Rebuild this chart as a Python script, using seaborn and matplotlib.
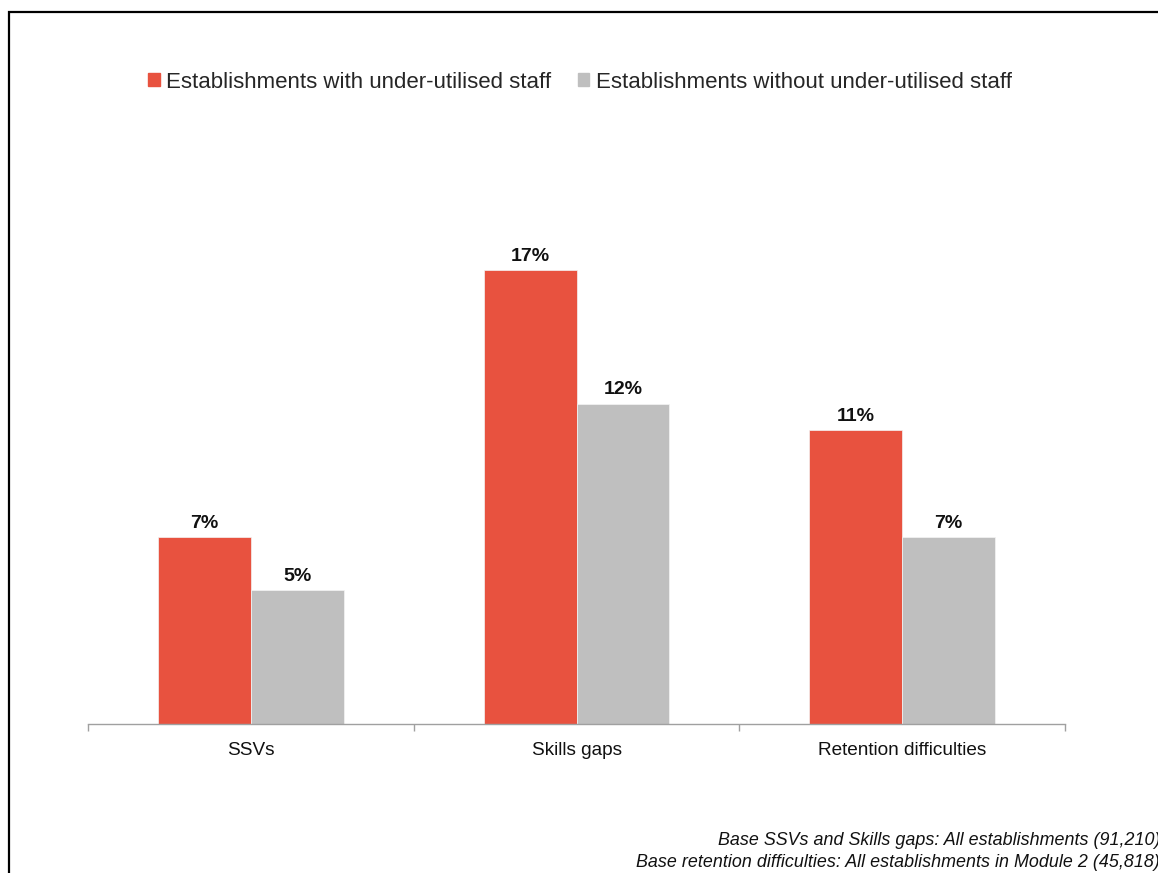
import seaborn as sns
import matplotlib.pyplot as plt
import matplotlib.patches as mpatches
import pandas as pd

# data
categories = ['SSVs', 'Skills gaps', 'Retention difficulties']
with_staff = [7, 17, 11]
without_staff = [5, 12, 7]
series_names = ['Establishments with under-utilised staff',
                'Establishments without under-utilised staff']
colors = ['#E8523F', '#BFBFBF']

data = pd.DataFrame({
    'Category': categories * 2,
    'Value': with_staff + without_staff,
    'Series': [series_names[0]] * 3 + [series_names[1]] * 3,
})

sns.set_style('white')
plt.rcParams['font.family'] = ['Liberation Sans', 'DejaVu Sans']

fig = plt.figure(figsize=(11.58, 8.73), dpi=100)
ax = fig.add_axes([0.076, 0.1707, 0.8437, 0.6117])

sns.barplot(data=data, x='Category', y='Value', hue='Series',
            palette=colors, width=0.57, saturation=1, ax=ax, legend=False,
            linewidth=0.5, edgecolor='#F4F4F4')

ax.set_xlim(-0.5, 2.5)
ax.set_ylim(0, 20)
ax.set_xlabel('')
ax.set_ylabel('')
ax.set_yticks([])

# tick marks at category boundaries, labels at centres
ax.set_xticks(range(len(categories)))
ax.set_xticklabels(categories, fontsize=13.7, color='#111111')
ax.tick_params(axis='x', which='major', length=0, pad=13)
ax.set_xticks([-0.5, 0.5, 1.5, 2.5], minor=True)
ax.tick_params(axis='x', which='minor', length=5, width=1, color='#A0A0A0',
               direction='out', bottom=True)

for side in ['top', 'right', 'left']:
    ax.spines[side].set_visible(False)
ax.spines['bottom'].set_color('#A0A0A0')
ax.spines['bottom'].set_linewidth(1)

# value labels
for cont in ax.containers:
    vals = cont.datavalues
    ax.bar_label(cont, labels=[f'{int(v)}%' for v in vals], padding=4,
                 fontsize=14, fontweight='bold', color='#111111')

# legend
handles = [mpatches.Patch(color=c, label=n) for c, n in zip(colors, series_names)]
fig.legend(handles=handles, loc='center', bbox_to_anchor=(0.501, 0.906),
           ncol=2, frameon=False, fontsize=16, handlelength=0.5,
           handleheight=0.5, handletextpad=0.3, columnspacing=1.2)

# footnote
fig.text(1.002, 0.037, 'Base SSVs and Skills gaps: All establishments (91,210)',
         ha='right', va='center', fontsize=12.9, style='italic', color='#111111')
fig.text(1.002, 0.012, 'Base retention difficulties: All establishments in Module 2 (45,818)',
         ha='right', va='center', fontsize=12.9, style='italic', color='#111111')

# outer frame (runs off the right and bottom edge)
top = 1 - 12 / 873
frame = mpatches.Rectangle((9 / 1158, -0.2), 1.2, top + 0.2,
                           transform=fig.transFigure, fill=False,
                           edgecolor='black', linewidth=1.6)
fig.patches.append(frame)

fig.savefig('out.png', dpi=100)
